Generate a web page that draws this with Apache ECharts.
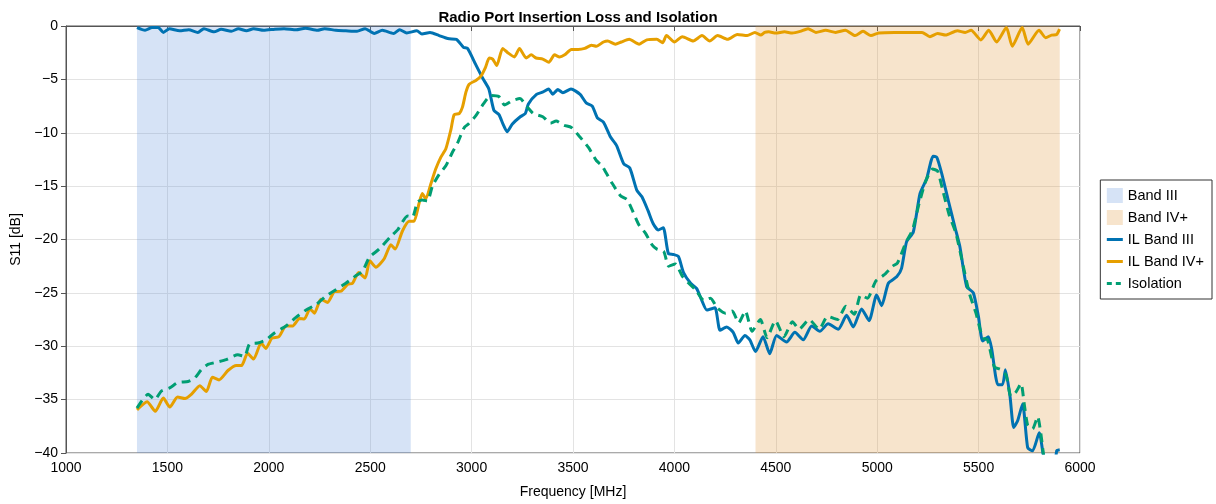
<!DOCTYPE html>
<html>
<head>
<meta charset="utf-8">
<script src="https://cdn.jsdelivr.net/npm/echarts@6/dist/echarts.min.js"></script>
<style>html,body{margin:0;padding:0;background:#fff}#c{width:1216px;height:504px}</style>
</head>
<body>
<div id="c"></div>
<script>
const xTicks = [1000,1500,2000,2500,3000,3500,4000,4500,5000,5500,6000];
const yTicks = [-40,-35,-30,-25,-20,-15,-10,-5,0];
const bandNames = ['Band III','Band IV+'];
const bandRanges = [[1350,2700],[4400,5900]];

const freqIL3 = [1350,1390,1425,1455,1480,1510,1560,1605,1650,1680,1730,1765,1815,1850,1890,1925,1975,2030,2075,2135,2180,2240,2275,2330,2380,2435,2475,2520,2560,2615,2645,2680,2730,2755,2795,2840,2870,2890,2925,2960,2980,3020,3055,3085,3110,3135,3155,3175,3200,3240,3265,3280,3320,3350,3380,3400,3425,3450,3490,3535,3565,3595,3620,3650,3685,3715,3750,3780,3815,3840,3870,3895,3920,3945,3970,3995,4020,4045,4080,4110,4135,4160,4200,4225,4258,4290,4315,4348,4372,4400,4437,4470,4504,4553,4594,4635,4677,4717,4758,4808,4849,4882,4923,4960,4997,5022,5055,5096,5120,5145,5178,5211,5244,5276,5294,5318,5350,5384,5408,5441,5474,5499,5520,5548,5565,5595,5618,5632,5655,5673,5692,5717,5742,5766,5799,5819,5840,5870,5885,5900];
const dbIL3 = [-0.15,-0.4,-0.15,-0.15,-0.6,-0.25,-0.45,-0.35,-0.6,-0.25,-0.55,-0.3,-0.5,-0.25,-0.45,-0.25,-0.4,-0.3,-0.25,-0.35,-0.2,-0.4,-0.25,-0.4,-0.45,-0.5,-0.25,-0.7,-0.4,-0.7,-0.35,-0.65,-0.45,-0.75,-0.6,-0.9,-1.1,-1.2,-1.25,-2.0,-2.1,-3.6,-4.9,-5.9,-7.9,-8.3,-9.2,-9.9,-9.2,-8.5,-8.2,-7.3,-6.4,-6.2,-5.9,-6.4,-5.95,-6.25,-5.9,-6.4,-7.2,-7.5,-8.6,-9.0,-10.4,-11.2,-12.9,-13.3,-15.4,-16.0,-17.3,-18.5,-19.1,-18.9,-21.3,-21.4,-21.6,-23.1,-24.1,-24.6,-25.7,-26.6,-26.4,-28.5,-28.2,-28.7,-29.7,-29.0,-29.4,-30.5,-29.1,-30.7,-29.0,-29.6,-28.7,-29.4,-28.1,-28.6,-27.9,-28.4,-27.1,-28.2,-26.5,-27.6,-25.2,-26.2,-24.1,-23.5,-22.7,-20.2,-19.3,-15.7,-14.3,-12.2,-12.3,-13.8,-16.3,-18.9,-20.7,-24.4,-25.0,-27.2,-29.5,-29.1,-30.3,-33.6,-33.6,-32.2,-34.7,-37.6,-37.0,-35.4,-39.5,-39.8,-38.1,-40.2,-42,-42,-39.8,-39.7];

const freqIL4 = [1350,1400,1440,1480,1512,1550,1587,1618,1660,1692,1722,1755,1800,1840,1866,1895,1925,1962,1986,2015,2050,2085,2118,2151,2175,2203,2225,2257,2290,2323,2356,2389,2413,2443,2475,2498,2528,2569,2602,2623,2659,2692,2716,2741,2757,2774,2799,2823,2848,2873,2898,2914,2939,2955,2972,2988,3021,3046,3068,3087,3104,3124,3153,3178,3211,3236,3269,3294,3318,3351,3381,3409,3434,3459,3492,3525,3558,3591,3615,3650,3671,3709,3738,3777,3826,3864,3913,3942,3961,4000,4039,4093,4136,4174,4213,4262,4310,4359,4397,4426,4445,4465,4500,4543,4581,4620,4659,4698,4746,4795,4843,4891,4930,4969,5008,5085,5182,5221,5260,5298,5337,5395,5434,5463,5511,5550,5589,5637,5666,5715,5744,5798,5831,5860,5885,5899];
const dbIL4 = [-35.96,-35.2,-36.1,-34.85,-35.7,-34.75,-34.9,-34.5,-33.7,-34.25,-32.9,-33.15,-32.25,-31.8,-31.8,-30.65,-31.2,-29.7,-30.2,-29.25,-29.1,-28.1,-28.1,-27.4,-27.45,-26.5,-26.9,-25.6,-25.9,-24.9,-24.85,-24.2,-24.1,-23.1,-23.6,-22.0,-22.6,-21.8,-20.5,-20.9,-19.2,-18.3,-18.3,-16.6,-15.7,-16.2,-14.8,-13.4,-12.3,-11.5,-9.7,-8.3,-8.2,-7.6,-6.2,-5.45,-5.1,-4.7,-3.9,-3.0,-3.1,-3.7,-2.1,-2.5,-2.9,-2.1,-3.0,-2.7,-3.0,-3.1,-3.4,-2.7,-2.9,-2.7,-2.2,-2.2,-2.1,-1.8,-1.9,-1.5,-1.4,-1.7,-1.5,-1.25,-1.7,-1.3,-1.25,-1.56,-0.9,-1.5,-1.0,-1.4,-0.9,-1.4,-0.9,-1.25,-0.8,-0.9,-0.6,-0.85,-0.6,-0.55,-0.65,-0.55,-0.65,-0.5,-0.25,-0.6,-0.4,-0.6,-0.4,-0.9,-0.5,-0.9,-0.65,-0.6,-0.6,-0.6,-1.0,-0.7,-0.85,-0.45,-0.6,-0.4,-1.3,-0.4,-1.5,-0.15,-1.9,-0.15,-1.7,-0.4,-1.1,-0.85,-0.8,-0.3];

const freqIso = [1350,1405,1438,1470,1511,1552,1602,1634,1667,1700,1741,1790,1847,1880,1905,1946,1987,2028,2085,2134,2184,2233,2282,2331,2380,2429,2462,2495,2544,2602,2635,2684,2708,2733,2757,2782,2807,2840,2873,2906,2930,2964,2983,3021,3058,3096,3134,3162,3200,3238,3275,3304,3351,3389,3417,3455,3492,3530,3577,3615,3643,3692,3734,3766,3791,3824,3857,3890,3914,3947,3972,4005,4038,4071,4104,4145,4178,4211,4252,4285,4317,4350,4383,4424,4457,4498,4541,4582,4615,4664,4714,4755,4804,4845,4887,4919,4952,4993,5035,5076,5100,5141,5174,5207,5240,5273,5298,5322,5355,5388,5421,5454,5487,5520,5544,5577,5610,5635,5660,5684,5709,5725,5742,5766,5791,5807,5819,5835];
const dbIso = [-35.8,-34.5,-35.0,-34.2,-33.9,-33.4,-33.3,-33.0,-32.2,-31.7,-31.5,-31.25,-30.8,-30.95,-29.8,-29.7,-29.4,-28.75,-28.1,-27.3,-26.6,-26.1,-25.3,-24.7,-24.1,-23.4,-23.0,-21.7,-20.9,-19.7,-19.1,-17.8,-17.9,-16.5,-16.3,-16.4,-15.0,-13.9,-13.1,-11.8,-11.0,-9.5,-9.2,-8.4,-7.3,-6.5,-6.6,-7.4,-7.0,-6.8,-7.6,-8.2,-8.5,-9.1,-8.9,-9.3,-9.5,-10.3,-11.4,-12.6,-13.1,-14.7,-15.9,-16.25,-17.2,-18.6,-19.4,-20.5,-20.9,-21.1,-22.5,-22.3,-23.4,-24.1,-24.7,-25.7,-25.5,-26.4,-26.9,-26.7,-27.8,-26.7,-28.6,-27.5,-29.2,-27.6,-29.1,-27.7,-28.4,-27.5,-28.4,-27.2,-27.5,-26.25,-27.0,-25.2,-25.5,-23.9,-23.3,-22.5,-22.2,-20.3,-19.1,-16.6,-14.5,-13.4,-13.6,-15.3,-17.7,-19.4,-22.2,-25.0,-26.9,-29.2,-29.4,-31.9,-32.2,-32.7,-34.7,-34.3,-33.5,-35.4,-37.4,-37.75,-36.6,-38.2,-40,-42];

const FONT = 'Liberation Sans, Arial, sans-serif';
const pairs = (xs, ys) => xs.map((x, i) => [x, ys[i]]);
const minus = v => v < 0 ? '\u2212' + Math.abs(v) : String(v);

const chart = echarts.init(document.getElementById('c'), null, {renderer: 'canvas'});
chart.setOption({
  animation: false,
  backgroundColor: '#fff',
  textStyle: {fontFamily: FONT},
  title: {
    text: 'Radio Port Insertion Loss and Isolation',
    left: 573, top: 5, textAlign: 'center',
    textStyle: {fontSize: 15, fontWeight: 'bold', color: '#000', fontFamily: FONT}
  },
  grid: {left: 66, right: 136, top: 26, bottom: 51, show: true, borderColor: '#555', borderWidth: 1, backgroundColor: 'transparent'},
  legend: {
    orient: 'vertical', right: 4, top: 180,
    padding: [8, 8, 8, 5], itemGap: 7, itemWidth: 16, itemHeight: 15,
    borderColor: '#333', borderWidth: 1, backgroundColor: '#fff',
    textStyle: {fontSize: 14.5, color: '#000', fontFamily: FONT},
    data: [
      {name: bandNames[0], icon: 'rect'},
      {name: bandNames[1], icon: 'rect'},
      {name: 'IL Band III', itemStyle: {opacity: 0}, lineStyle: {width: 3}},
      {name: 'IL Band IV+', itemStyle: {opacity: 0}, lineStyle: {width: 3}},
      {name: 'Isolation', itemStyle: {opacity: 0}, lineStyle: {width: 3, type: [5, 4]}}
    ]
  },
  xAxis: {
    type: 'value', min: xTicks[0], max: xTicks[xTicks.length - 1], interval: 500,
    name: 'Frequency [MHz]', nameLocation: 'middle', nameGap: 32,
    nameTextStyle: {fontSize: 14, color: '#000', fontFamily: FONT},
    axisLine: {show: true, lineStyle: {color: '#555', width: 1}},
    axisTick: {show: true, length: 5, lineStyle: {color: '#555'}},
    axisLabel: {fontSize: 14, color: '#000', margin: 8, fontFamily: FONT, formatter: minus},
    splitLine: {show: true, lineStyle: {color: '#e3e3e3', width: 1}}
  },
  yAxis: {
    type: 'value', min: yTicks[0], max: yTicks[yTicks.length - 1], interval: 5,
    name: 'S11 [dB]', nameLocation: 'middle', nameGap: 38,
    nameTextStyle: {fontSize: 14, color: '#000', fontFamily: FONT},
    axisLine: {show: true, lineStyle: {color: '#555', width: 1}},
    axisTick: {show: true, length: 5, lineStyle: {color: '#555'}},
    axisLabel: {fontSize: 14, color: '#000', margin: 8, fontFamily: FONT, formatter: minus},
    splitLine: {show: true, lineStyle: {color: '#e3e3e3', width: 1}}
  },
  series: [
    {
      name: bandNames[0], type: 'line', data: [], z: 1,
      itemStyle: {color: 'rgb(214,227,246)'}, lineStyle: {color: 'rgb(214,227,246)'},
      markArea: {silent: true, itemStyle: {color: 'rgba(91,143,219,0.25)'},
        data: [[{xAxis: bandRanges[0][0]}, {xAxis: bandRanges[0][1]}]]}
    },
    {
      name: bandNames[1], type: 'line', data: [], z: 1,
      itemStyle: {color: 'rgb(247,228,204)'}, lineStyle: {color: 'rgb(247,228,204)'},
      markArea: {silent: true, itemStyle: {color: 'rgba(223,147,51,0.25)'},
        data: [[{xAxis: bandRanges[1][0]}, {xAxis: bandRanges[1][1]}]]}
    },
    {
      name: 'IL Band III', type: 'line', data: pairs(freqIL3, dbIL3), showSymbol: false, symbol: 'none',
      smooth: 0.2, clip: true, z: 3,
      itemStyle: {color: '#0072B2'}, lineStyle: {color: '#0072B2', width: 3}
    },
    {
      name: 'IL Band IV+', type: 'line', data: pairs(freqIL4, dbIL4), showSymbol: false, symbol: 'none',
      smooth: 0.2, clip: true, z: 3,
      itemStyle: {color: '#E69F00'}, lineStyle: {color: '#E69F00', width: 3}
    },
    {
      name: 'Isolation', type: 'line', data: pairs(freqIso, dbIso), showSymbol: false, symbol: 'none',
      smooth: 0.2, clip: true, z: 4,
      itemStyle: {color: '#009E73'}, lineStyle: {color: '#009E73', width: 3, type: [9, 6]}
    }
  ]
});
</script>
</body>
</html>
